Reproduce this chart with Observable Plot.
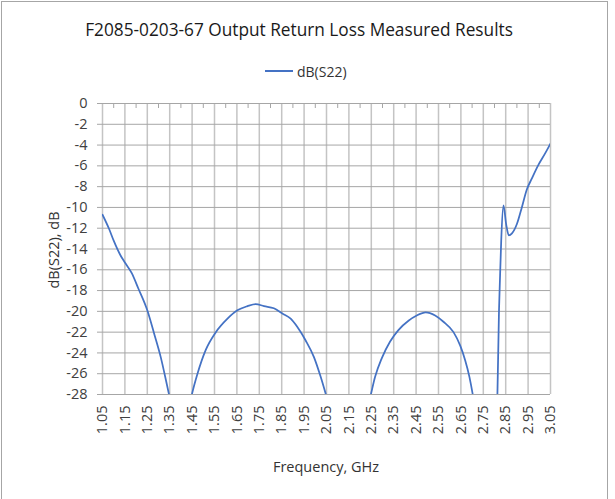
<!DOCTYPE html>
<html>
<head>
<meta charset="utf-8">
<script src="https://cdn.jsdelivr.net/npm/d3@7"></script>
<script src="https://cdn.jsdelivr.net/npm/@observablehq/plot@0.6"></script>
<style>
  html, body { margin: 0; padding: 0; background: #fff; }
  #wrap { position: relative; width: 615px; height: 499px; overflow: hidden; font-family: "Open Sans", sans-serif; color: #404040; }
  #frame { position: absolute; left: 1px; top: 1px; width: 607px; height: 520px; border: 1px solid #a6a6a6; border-bottom: none; box-sizing: border-box; }
  #title { position: absolute; left: 0; width: 598px; top: 18px; text-align: center; font-size: 17px; color: #1a1a1a; white-space: nowrap; }
  #title span { display: inline-block; }
  #legend { position: absolute; top: 61px; left: 265px; height: 20px; display: flex; align-items: center; font-size: 14px; color: #333; }
  #legend .sw { width: 28px; height: 0; border-top: 2px solid #4472C4; margin-right: 4px; }
  #xtitle { position: absolute; left: 102px; width: 448px; top: 457px; text-align: center; font-size: 14.5px; color: #333; }
  #ytitle { position: absolute; left: 53px; top: 250px; transform: translate(-50%, -50%) rotate(-90deg); font-size: 14.5px; color: #333; white-space: nowrap; }
  #chart { position: absolute; left: 0; top: 0; }
</style>
</head>
<body>
<div id="wrap">
  <div id="frame"></div>
  <div id="chart"></div>
  <div id="title"><span id="titletext">F2085-0203-67 Output Return Loss Measured Results</span></div>
  <div id="legend"><div class="sw"></div><span>dB(S22)</span></div>
  <div id="ytitle">dB(S22), dB</div>
  <div id="xtitle">Frequency, GHz</div>
</div>
<script>
// Frequency (GHz)
const freq = [
  1.05, 1.08, 1.10, 1.13, 1.15, 1.18, 1.21, 1.25, 1.28, 1.31, 1.333, 1.347, 1.37, 1.40, 1.43,
  1.449, 1.474, 1.511, 1.556, 1.608, 1.652, 1.697, 1.734, 1.771, 1.815, 1.853, 1.89, 1.92, 1.957, 1.994, 2.024,
  2.05, 2.08, 2.15, 2.22,
  2.248, 2.267, 2.297, 2.334, 2.371, 2.416, 2.453, 2.493, 2.535, 2.572, 2.617, 2.647, 2.669, 2.688, 2.702,
  2.72, 2.76, 2.805,
  2.813, 2.82, 2.825, 2.83, 2.84, 2.852, 2.864, 2.878, 2.90, 2.922, 2.944, 2.967, 2.996, 3.026, 3.05
];
// dB(S22)
const s22 = [
  -10.7, -12.1, -13.2, -14.6, -15.3, -16.3, -17.8, -19.9, -22.1, -24.4, -26.6, -28.0, -30.5, -33, -30,
  -28, -26, -23.7, -22.0, -20.7, -19.9, -19.5, -19.3, -19.5, -19.7, -20.2, -20.7, -21.5, -22.8, -24.4, -26.3,
  -28.2, -30.5, -34, -30.5,
  -28, -26.3, -24.5, -22.9, -21.8, -20.9, -20.4, -20.1, -20.4, -21.0, -22.0, -23.3, -24.7, -26.3, -27.9,
  -30.5, -34, -31,
  -28, -20, -16.5, -13.2, -9.8, -11.6, -12.7, -12.5, -11.6, -10.0, -8.3, -7.2, -5.9, -4.8, -3.85
];
const xTicks = [1.05,1.15,1.25,1.35,1.45,1.55,1.65,1.75,1.85,1.95,2.05,2.15,2.25,2.35,2.45,2.55,2.65,2.75,2.85,2.95,3.05];
const xMinor = [1.10,1.20,1.30,1.40,1.50,1.60,1.70,1.80,1.90,2.00,2.10,2.20,2.30,2.40,2.50,2.60,2.70,2.80,2.90,3.00];
const yTicks = [-28,-26,-24,-22,-20,-18,-16,-14,-12,-10,-8,-6,-4,-2,0];

const data = freq.map((f, i) => ({f, v: s22[i]}));

const chart = Plot.plot({
  width: 615,
  height: 499,
  marginLeft: 102,
  marginRight: 65,
  marginTop: 103,
  marginBottom: 105,
  x: {domain: [1.05, 3.05]},
  y: {domain: [-28, 0]},
  style: {fontFamily: "'Open Sans', sans-serif", fontSize: "14.5px", color: "#404040", background: "transparent"},
  marks: [
    Plot.ruleX(xTicks, {stroke: "#c4c4c4", strokeWidth: 1.5}),
    Plot.ruleY(yTicks, {stroke: "#a6a6a6", strokeWidth: 1}),
    Plot.axisX({anchor: "top", ticks: xMinor, tickSize: -4, tickFormat: () => "", label: null, stroke: "#a6a6a6"}),
    Plot.axisY({ticks: yTicks, tickSize: 5, tickPadding: 10, label: null, stroke: "#a6a6a6", tickFormat: d => String(d)}),
    Plot.axisX({anchor: "bottom", ticks: xTicks, tickSize: 0, tickPadding: 11, tickRotate: -90, tickFormat: d => d.toFixed(2), label: null}),
    Plot.line(data, {x: "f", y: "v", stroke: "#4472C4", strokeWidth: 1.75, clip: true, curve: "monotone-x"})
  ]
});
document.getElementById("chart").appendChild(chart);

// fit title width to reference
const t = document.getElementById("titletext");
const w = t.getBoundingClientRect().width;
t.style.fontSize = (17 * 428 / w) + "px";
</script>
</body>
</html>
